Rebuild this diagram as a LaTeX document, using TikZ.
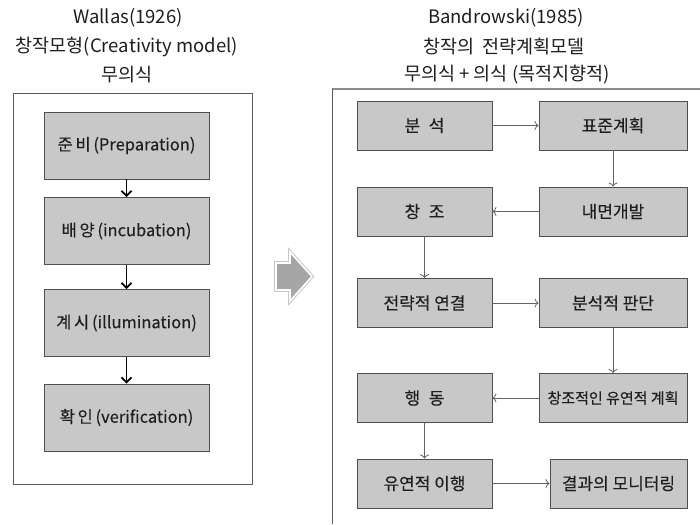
\documentclass[tikz,border=0pt]{standalone}
\usepackage{fontspec}
\setmainfont{Noto Sans CJK KR}
\newfontfamily\boxfont{Noto Sans CJK KR}[FakeBold=0.2]
\usetikzlibrary{arrows.meta}
\definecolor{boxfill}{RGB}{200,200,200}
\definecolor{boxline}{RGB}{80,80,80}
\definecolor{framegray}{RGB}{90,90,90}
\definecolor{linkgray}{RGB}{100,100,100}
\definecolor{textdark}{RGB}{30,30,30}
\definecolor{bigarrow}{RGB}{166,166,166}
\tikzset{
  title/.style={text=textdark, font=\fontsize{18.5}{22}\selectfont, inner sep=0pt},
  stagebox/.style={draw=boxline, fill=boxfill, line width=0.9pt, text=textdark,
    minimum width=165pt, minimum height=67pt, inner sep=0pt,
    font=\boxfont\fontsize{16.5}{19}\selectfont},
  planbox/.style={draw=boxline, fill=boxfill, line width=0.9pt, text=textdark,
    minimum height=49pt, inner sep=0pt, font=\boxfont\fontsize{17}{20}\selectfont},
  stagelink/.style={draw=black, line width=1.8pt, -{Straight Barb[length=5pt,width=10pt]}},
  planlink/.style={draw=linkgray, line width=0.8pt, -{To[length=4pt,width=9pt]}},
}
\begin{document}
\begin{tikzpicture}[x=1pt,y=-1pt]
\useasboundingbox[fill=white] (0,0) rectangle (700,524);

% headings
\node[title] (lt1) at (128,18) {Wallas(1926)};
\node[title] (lt2) at (127,47) {창작모형(Creativity\ model)};
\node[title] (lt3) at (127,75) {무의식};
\node[title] (rt1) at (506,18) {Bandrowski(1985)};
\node[title] (rt2) at (504,47) {창작의\ \ 전략계획모델};
\node[title] (rt3) at (507,75) {무의식 + 의식 (목적지향적)};

% Wallas frame
\draw[framegray, line width=0.9pt] (13,93) rectangle (252,484);

% Wallas stages
\node[stagebox] (s1) at (126.5,145.5) {준\,비\,(Preparation)};
\node[stagebox] (s2) at (126.5,231) {배\,양\,(incubation)};
\node[stagebox] (s3) at (126.5,323) {계\,시\,(illumination)};
\node[stagebox] (s4) at (126.5,417.5) {확\,인\,(verification)};
\draw[stagelink] (s1) -- (s2);
\draw[stagelink] (s2) -- (s3);
\draw[stagelink] (s3) -- (s4);

% transition arrow between the two models
\def\bigarrowpath{(276,263) -- (290,263) -- (290,252) -- (312,276.5) -- (290,301) -- (290,290) -- (276,290) -- cycle}
\draw[black!22, line width=3.6pt, line join=miter] \bigarrowpath;
\draw[fill=bigarrow, draw=white, line width=1.6pt, line join=miter] \bigarrowpath;

% Bandrowski frame (open on the right and below)
\draw[black!45, line width=1.1pt] (332,89) -- (700,89);
\draw[framegray, line width=0.9pt] (332,89) -- (332,524);

% Bandrowski planning steps
\node[planbox, minimum width=135pt] (a1) at (424.5,125.5) {분\hspace{0.5em}석};
\node[planbox, minimum width=148pt] (b1) at (613,125.5) {표준계획};
\node[planbox, minimum width=135pt] (a2) at (424.5,211.5) {창\hspace{0.5em}조};
\node[planbox, minimum width=148pt] (b2) at (613,211.5) {내면개발};
\node[planbox, minimum width=135pt] (a3) at (424.5,303) {전략적 연결};
\node[planbox, minimum width=148pt] (b3) at (613,303) {분석적 판단};
\node[planbox, minimum width=135pt] (a4) at (424.5,398) {행\hspace{0.5em}동};
\node[planbox, minimum width=148pt, font=\boxfont\fontsize{15}{18}\selectfont] (b4) at (613,398) {창조적인 유연적 계획};
\node[planbox, minimum width=135pt] (a5) at (424.5,483.5) {유연적 이행};
\node[planbox, minimum width=137pt] (b5) at (618.5,483.5) {결과의 모니터링};

\draw[planlink] (a1) -- (b1);
\draw[planlink] (b1) -- (b2);
\draw[planlink] (b2) -- (a2);
\draw[planlink] (a2) -- (a3);
\draw[planlink] (a3) -- (b3);
\draw[planlink] (b3) -- (b4);
\draw[planlink] (b4) -- (a4);
\draw[planlink] (a4) -- (a5);
\draw[planlink] (a5) -- (b5);
\end{tikzpicture}
\end{document}
